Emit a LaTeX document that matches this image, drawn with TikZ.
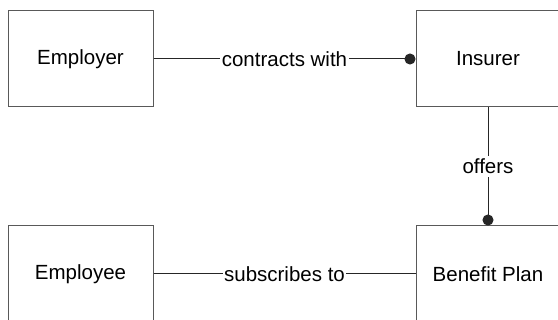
\documentclass[tikz,border=0pt]{standalone}
\usepackage{fontspec}
\setmainfont{Liberation Sans}
\usetikzlibrary{arrows.meta}
\begin{document}
\begin{tikzpicture}[x=1pt,y=-1pt,
  entity/.style={draw=black!65, line width=1pt, rectangle, minimum width=145pt, minimum height=96pt, inner sep=0pt, font=\fontsize{20.5}{24}\selectfont},
  rel/.style={draw=black!85, line width=1pt},
  rellabel/.style={fill=white, inner xsep=1.5pt, inner ysep=3pt, font=\fontsize{20.5}{24}\selectfont},
  dot/.style={-{Circle[length=11pt]}}]
\useasboundingbox (0,0) rectangle (558,320);
\clip (0,0) rectangle (558,320);
\node[entity] (employer) at (80.5,59) {Employer};
\node[entity, minimum width=144pt] (insurer) at (488,59) {Insurer};
\node[entity] (employee) at (80.5,274) {Employee};
\node[entity, minimum width=144pt] (plan) at (488,274) {Benefit Plan};
\draw[rel, dot] (employer) -- node[rellabel] {contracts with} (insurer);
\draw[rel, dot] (insurer) -- node[rellabel] {offers} (plan);
\draw[rel] (employee) -- node[rellabel] {subscribes to} (plan);
\end{tikzpicture}
\end{document}
